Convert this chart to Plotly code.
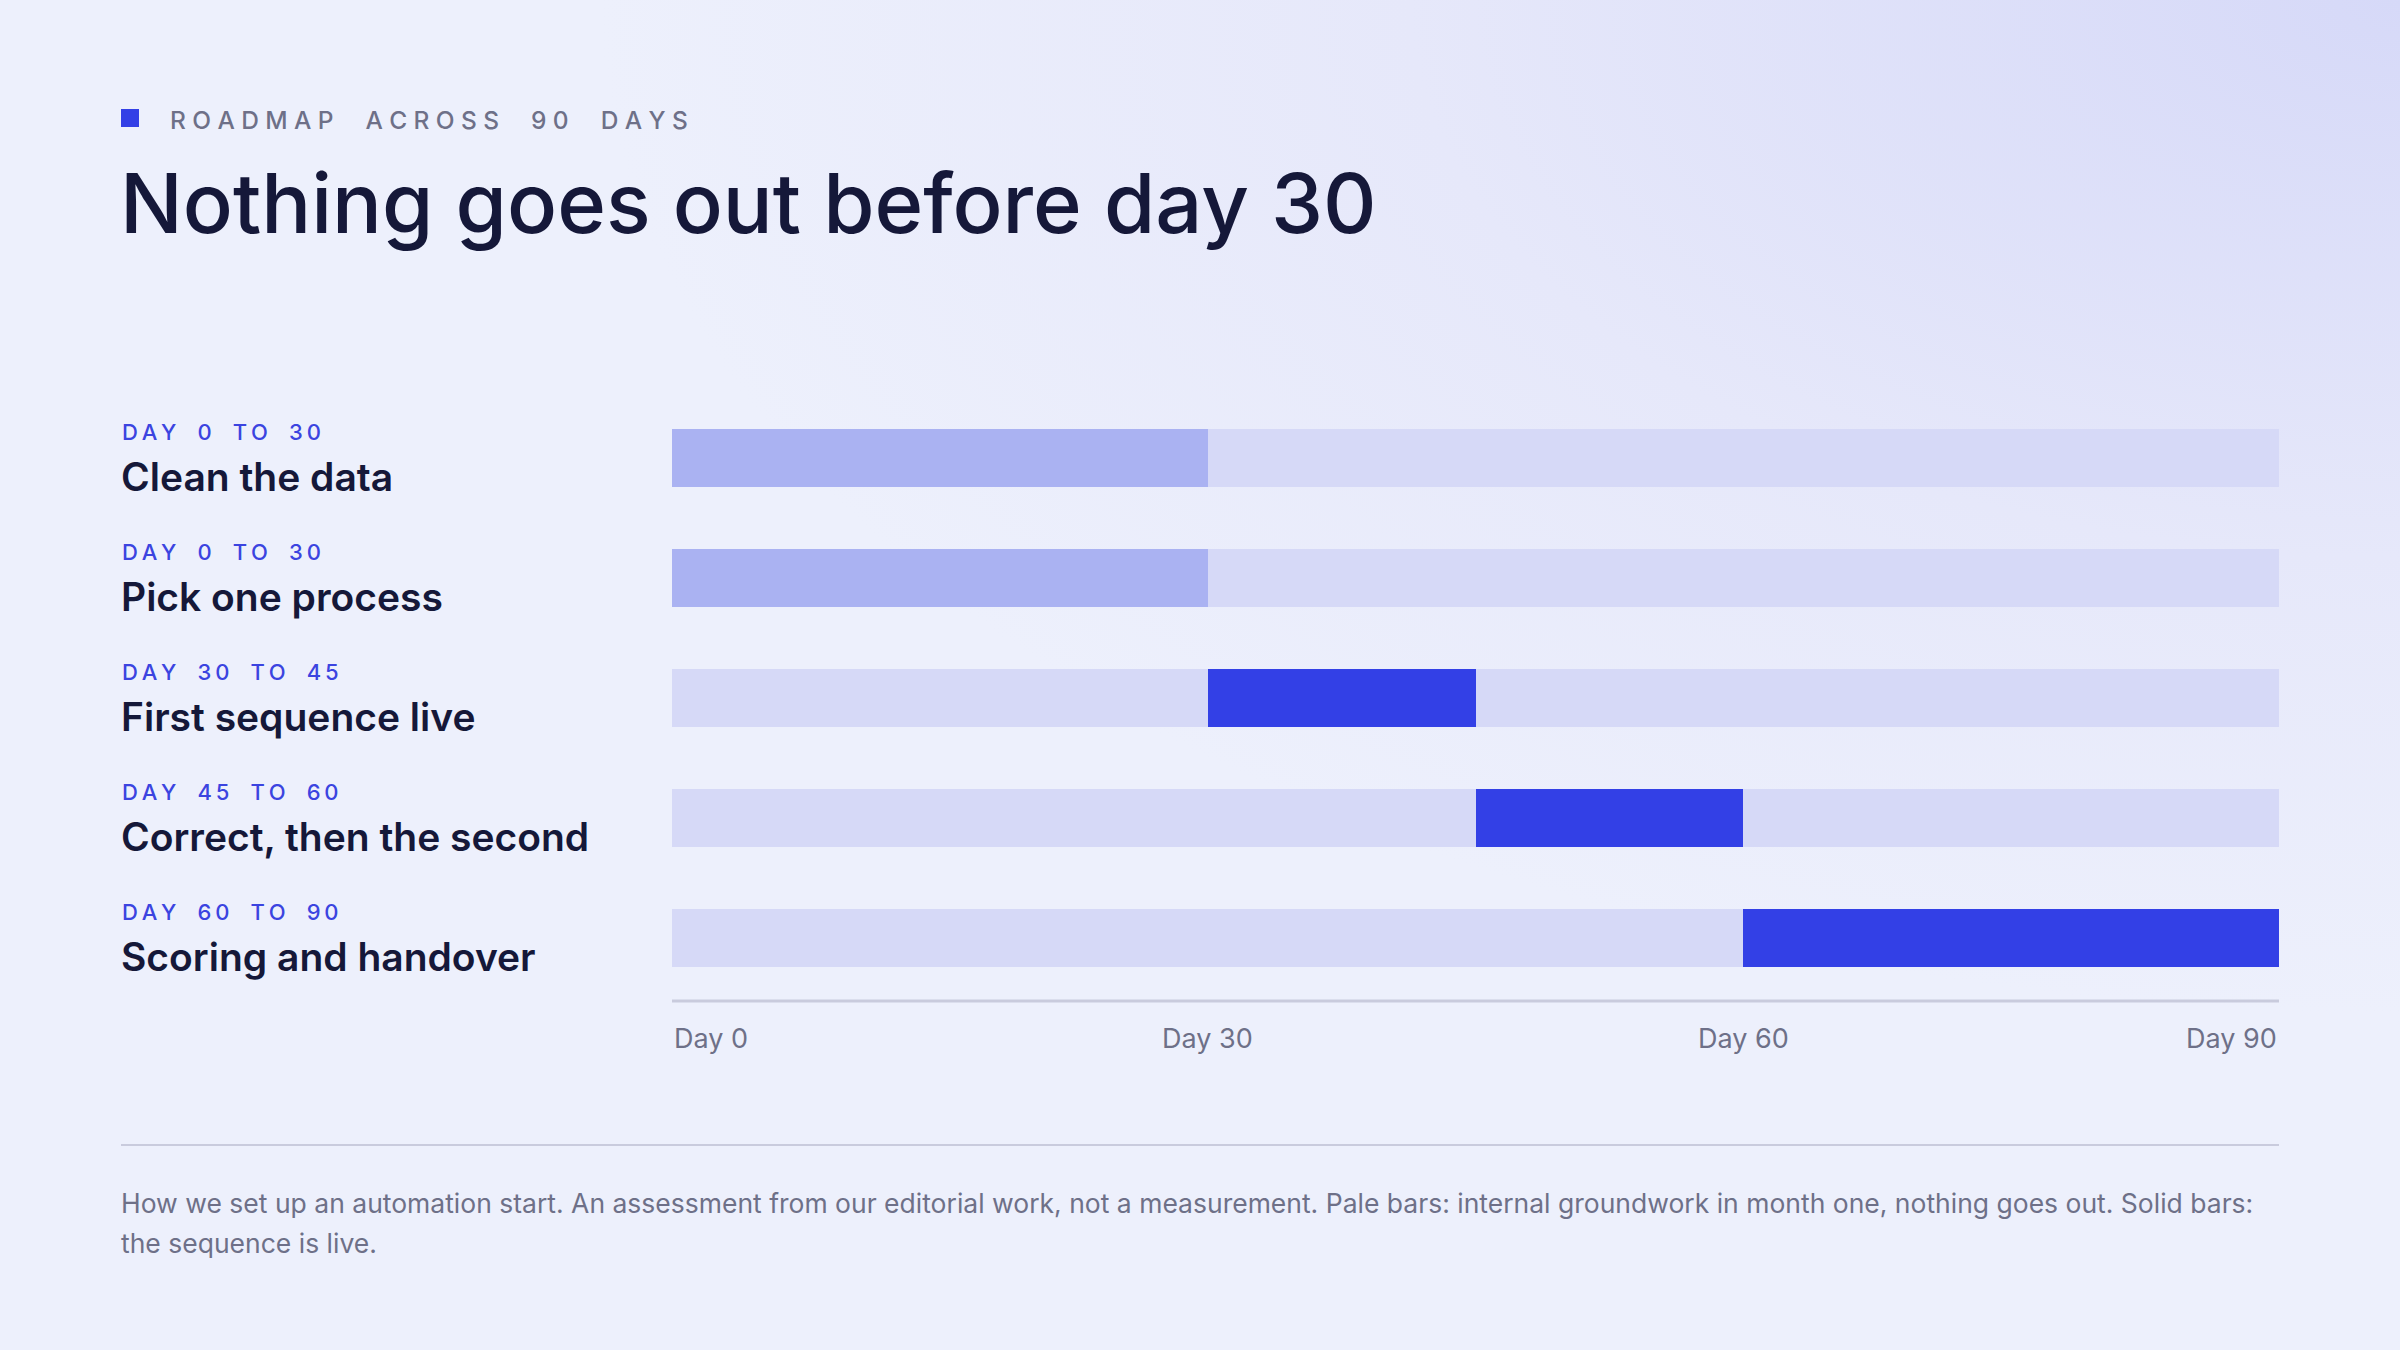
import base64

import plotly.graph_objects as go

# ---- data ----
phases = ["Clean the data", "Pick one process", "First sequence live",
          "Correct, then the second", "Scoring and handover"]
start_day = [0, 0, 30, 45, 60]
end_day = [30, 30, 45, 60, 90]
groundwork = [True, True, False, False, False]  # pale = internal, nothing goes out
total_days = 90
tick_days = [0, 30, 60, 90]
tick_text = ["Day 0", "Day 30", "Day 60", "Day 90"]

kicker = "ROADMAP ACROSS 90 DAYS"
title = "Nothing goes out before day 30"
footnote_lines = [
    "How we set up an automation start. An assessment from our editorial work, "
    "not a measurement. Pale bars: internal groundwork in month one, nothing goes out. "
    "Solid bars:",
    "the sequence is live.",
]

NAVY = "#151839"
GREY = "#6e7088"
BLUE = "#3340e6"
PALE = "#aab2f2"
TRACK = "#d6d9f7"
RULE = "#c9cbdd"
FONT = "Inter"

W, H = 2400, 1350


def spaced(text, gap="\u2009"):
    # fake letter-spacing with thin spaces
    return gap.join(list(text)).replace(gap + " " + gap, gap * 2 + " " + gap * 2)


def px_x(p):
    return p / W


def px_y(p):
    return 1 - p / H


# background: soft lavender glow from the top right corner
svg = f"""<svg xmlns='http://www.w3.org/2000/svg' width='{W}' height='{H}'>
<defs><radialGradient id='g' cx='1' cy='0' r='0.75'>
<stop offset='0' stop-color='#d6d9f8'/><stop offset='0.55' stop-color='#e6e8fa'/>
<stop offset='1' stop-color='#edf0fc'/></radialGradient></defs>
<rect width='100%' height='100%' fill='#edf0fc'/>
<rect width='100%' height='100%' fill='url(#g)'/></svg>"""
bg_src = "data:image/svg+xml;base64," + base64.b64encode(svg.encode()).decode()

fig = go.Figure()

# full 90 day track behind every row
fig.add_trace(go.Bar(
    y=phases, x=[total_days] * len(phases), base=[0] * len(phases),
    orientation="h", marker=dict(color=TRACK, line=dict(width=0)),
    width=0.49, hoverinfo="skip", showlegend=False,
))
# the phase itself
fig.add_trace(go.Bar(
    y=phases, x=[e - s for s, e in zip(start_day, end_day)], base=start_day,
    orientation="h",
    marker=dict(color=[PALE if g else BLUE for g in groundwork], line=dict(width=0)),
    width=0.49, showlegend=False,
))

annotations = []
for name, s, e in zip(phases, start_day, end_day):
    annotations.append(dict(
        xref="paper", yref="y", x=px_x(120), y=name, yshift=26,
        xanchor="left", yanchor="middle", showarrow=False,
        text=spaced(f"DAY {s} TO {e}"),
        font=dict(family=FONT, size=22, color="#3b44e0", weight=500),
    ))
    annotations.append(dict(
        xref="paper", yref="y", x=px_x(119), y=name, yshift=-19,
        xanchor="left", yanchor="middle", showarrow=False,
        text=name, font=dict(family=FONT, size=39, color=NAVY, weight=600),
    ))

for d, t in zip(tick_days, tick_text):
    anchor = "left" if d == tick_days[0] else ("right" if d == tick_days[-1] else "center")
    annotations.append(dict(
        xref="x", yref="paper", x=d, y=px_y(1038), xanchor=anchor, yanchor="middle",
        showarrow=False, text=t, font=dict(family=FONT, size=27, color=GREY),
    ))

annotations += [
    dict(xref="paper", yref="paper", x=px_x(168), y=px_y(120), xanchor="left",
         yanchor="middle", showarrow=False, text=spaced(kicker, "\u2009\u200a"),
         font=dict(family=FONT, size=24.5, color=GREY, weight=500)),
    dict(xref="paper", yref="paper", x=px_x(118), y=px_y(203), xanchor="left",
         yanchor="middle", showarrow=False, text=title,
         font=dict(family=FONT, size=83, color=NAVY, weight=500)),
]
for i, line in enumerate(footnote_lines):
    annotations.append(dict(
        xref="paper", yref="paper", x=px_x(119), y=px_y(1203 + 40 * i),
        xanchor="left", yanchor="middle", showarrow=False, text=line,
        font=dict(family=FONT, size=26.5, color=GREY),
    ))

shapes = [
    dict(type="rect", xref="paper", yref="paper", x0=px_x(121), x1=px_x(139),
         y0=px_y(109), y1=px_y(127), fillcolor=BLUE, line=dict(width=0)),
    dict(type="line", xref="paper", yref="paper", x0=px_x(121), x1=px_x(2279),
         y0=px_y(1145), y1=px_y(1145), line=dict(color=RULE, width=2)),
    dict(type="line", xref="x", yref="paper", x0=0, x1=total_days,
         y0=px_y(1001), y1=px_y(1001), line=dict(color=RULE, width=3)),
]

fig.update_layout(
    width=W, height=H, margin=dict(l=0, r=0, t=0, b=0),
    paper_bgcolor="#edf0fc", plot_bgcolor="rgba(0,0,0,0)",
    barmode="overlay", bargap=0,
    images=[dict(source=bg_src, xref="paper", yref="paper", x=0, y=1,
                 sizex=1, sizey=1, sizing="stretch", layer="below")],
    xaxis=dict(domain=[px_x(672), px_x(2279)], range=[0, total_days],
               showgrid=False, zeroline=False, showticklabels=False, fixedrange=True),
    yaxis=dict(domain=[px_y(1001), px_y(397.6)], range=[4.528, -0.5], type="category",
               showgrid=False, zeroline=False, showticklabels=False, fixedrange=True),
    annotations=annotations, shapes=shapes,
)

fig.write_html(
    "out.html", config={"displayModeBar": False},
    post_script="document.body.style.margin='0';document.body.style.overflow='hidden';",
)
